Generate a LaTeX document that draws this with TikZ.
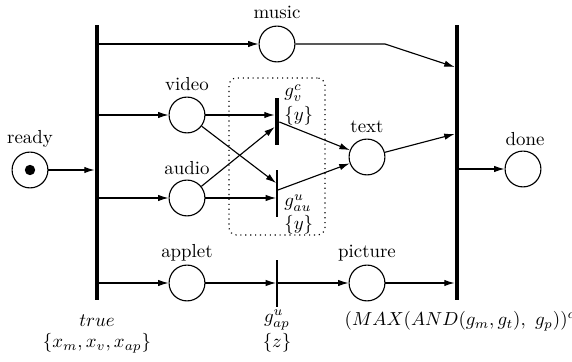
\documentclass[tikz,border=0pt]{standalone}
\usetikzlibrary{arrows.meta}
\begin{document}
\begin{tikzpicture}[x=0.53pt,y=-0.53pt,
  place/.style={circle,draw,line width=0.6pt,minimum size=19pt,inner sep=0pt},
  thickbar/.style={fill=black,draw=none,minimum width=2.1pt,inner sep=0pt,rectangle},
  thinbar/.style={fill=black,draw=none,minimum width=0.6pt,inner sep=0pt,rectangle},
  arc/.style={line width=0.6pt,-{Latex[length=5.5pt,width=3.4pt]}},
  lbl/.style={inner sep=0pt}]
\useasboundingbox (0,0) rectangle (572,362);
% places
\node[place] (ready) at (30,170) {};
\node[circle,fill=black,minimum size=5.5pt,inner sep=0pt] (token) at (30,170) {};
\node[place] (music) at (277,44) {};
\node[place] (video) at (187,115) {};
\node[place] (audio) at (187,198) {};
\node[place] (applet) at (187,283) {};
\node[place] (text) at (367,157) {};
\node[place] (picture) at (367,283) {};
\node[place] (done) at (523,169) {};
% transitions
\node[thickbar,minimum height=145.8pt] (barL) at (97,162.5) {};
\node[thickbar,minimum height=145.8pt] (barR) at (457,162.5) {};
\node[thickbar,minimum height=24.9pt] (gv) at (277,121.5) {};
\node[thinbar,minimum height=24.9pt] (gau) at (277,193.5) {};
\node[thinbar,minimum height=24.9pt] (gap) at (277,283.5) {};
% group box
\node[draw,dotted,line width=0.6pt,rounded corners=4pt,minimum width=50.9pt,minimum height=83.2pt,inner sep=0pt] (grp) at (277,156.5) {};
% helper coordinates
\coordinate (y67) at (0,67);
\coordinate (y127) at (0,127);
\coordinate (y183) at (0,183);
\coordinate (y122) at (0,122);
\coordinate (y190) at (0,190);
\coordinate (y134) at (0,134);
\coordinate (mbend) at (385,44);
% arcs
\draw[arc] (ready) -- (ready -| barL.west);
\draw[arc] (barL.east |- music) -- (music);
\draw[arc] (barL.east |- video) -- (video);
\draw[arc] (barL.east |- audio) -- (audio);
\draw[arc] (barL.east |- applet) -- (applet);
\draw[arc] (music) -- (mbend) -- (barR.west |- y67);
\draw[arc] (video) -- (video -| gv.west);
\draw[arc] (audio) -- (gv.west |- y127);
\draw[arc] (video) -- (gau.west |- y183);
\draw[arc] (audio) -- (audio -| gau.west);
\draw[arc] (gv.east |- y122) -- (text);
\draw[arc] (gau.east |- y190) -- (text);
\draw[arc] (text) -- (barR.west |- y134);
\draw[arc] (barR.east |- done) -- (done);
\draw[arc] (applet) -- (applet -| gap.west);
\draw[arc] (gap.east |- picture) -- (picture);
\draw[arc] (picture) -- (picture -| barR.west);
% labels
\node[lbl] (lready) at (30,139) {ready};
\node[lbl] (lmusic) at (277,12) {music};
\node[lbl] (lvideo) at (187,84) {video};
\node[lbl] (laudio) at (187,168) {audio};
\node[lbl] (lapplet) at (187,253) {applet};
\node[lbl] (ltext) at (367,127) {text};
\node[lbl] (lpicture) at (367,253) {picture};
\node[lbl] (ldone) at (525,139) {done};
\node[lbl,anchor=west] (lgv) at (284,93) {$g_v^c$};
\node[lbl,anchor=west] (lgvy) at (284,116) {$\{y\}$};
\node[lbl,anchor=west] (lgau) at (284,203) {$g_{au}^u$};
\node[lbl,anchor=west] (lgauy) at (284,225) {$\{y\}$};
\node[lbl] (lgap) at (277,320) {$g_{ap}^u$};
\node[lbl] (lgapz) at (277,343) {$\{z\}$};
\node[lbl] (ltrue) at (97,321) {$true$};
\node[lbl] (lset) at (97,343) {$\{x_m, x_v, x_{ap}\}$};
\node[lbl] (lmax) at (460,321) {$(MAX(AND(g_m,g_t),\ g_p))^c$};
\end{tikzpicture}
\end{document}
